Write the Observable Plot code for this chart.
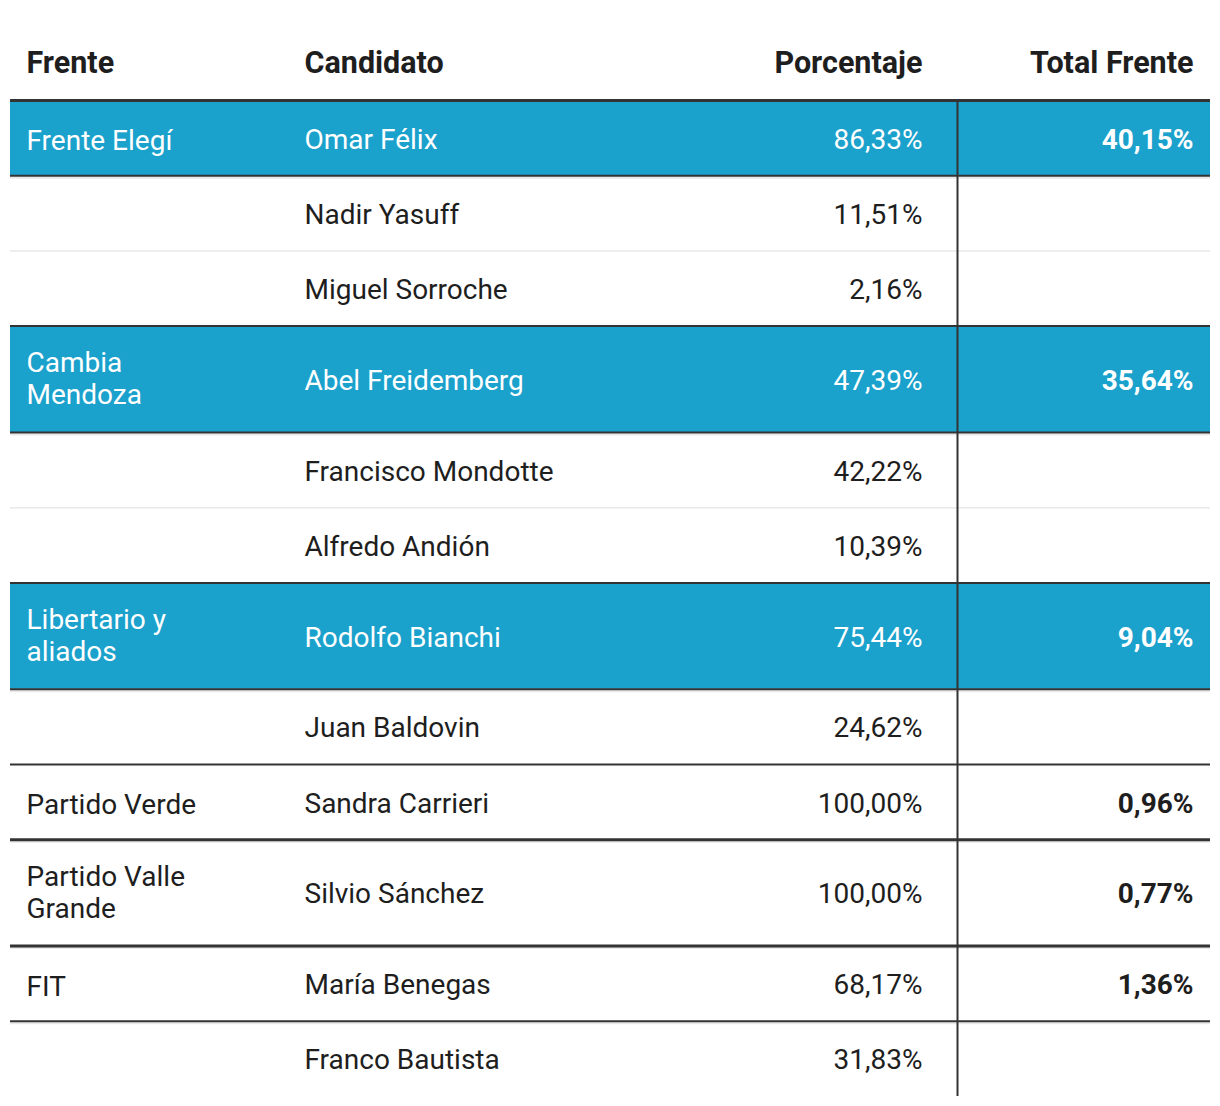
<!DOCTYPE html>
<html>
<head>
<meta charset="utf-8">
<script src="https://cdn.jsdelivr.net/npm/d3@7"></script>
<script src="https://cdn.jsdelivr.net/npm/@observablehq/plot@0.6"></script>
<style>
  html, body { margin: 0; padding: 0; background: #fff; }
  #chart svg { display: block; }
</style>
</head>
<body>
<div id="chart"></div>
<script>
// ---- data ----
const encabezados = ["Frente", "Candidato", "Porcentaje", "Total Frente"];
const frentes = ["Frente Elegí", "Cambia Mendoza", "Libertario y aliados", "Partido Verde", "Partido Valle Grande", "FIT"];
const totalesFrente = [40.15, 35.64, 9.04, 0.96, 0.77, 1.36];
const destacados = [true, true, true, false, false, false];
const candidatos = ["Omar Félix", "Nadir Yasuff", "Miguel Sorroche", "Abel Freidemberg", "Francisco Mondotte", "Alfredo Andión", "Rodolfo Bianchi", "Juan Baldovin", "Sandra Carrieri", "Silvio Sánchez", "María Benegas", "Franco Bautista"];
const porcentajes = [86.33, 11.51, 2.16, 47.39, 42.22, 10.39, 75.44, 24.62, 100.00, 100.00, 68.17, 31.83];
const frenteDeCandidato = [0, 0, 0, 1, 1, 1, 2, 2, 3, 4, 5, 5];

// ---- layout ----
const W = 1220, H = 1106;
const tableLeft = 10, tableRight = 1210;
const colFrente = 26, colCand = 304, colPct = 922, colDiv = 957, colTotal = 1193;
const headerY = 63, headerLine = 100;
const rowH1 = 75.2, rowH2 = 106.4;
const fontSize = 28, headerSize = 30.5;
const blue = "#1aa1cc", dark = "#333333", light = "#e9e9e9", textCol = "#1e1e1e";
const lineWidthEm = 7;

const es = d3.formatLocale({decimal: ",", thousands: ".", grouping: [3], currency: ["$", ""]});
const fmt = v => es.format(".2f")(v) + "%";

// estimate whether frente label wraps (same metric Plot uses)
function wraps(s) {
  const w = {" ":278,a:556,b:556,c:500,d:556,e:556,f:278,g:556,h:556,i:222,"í":222,j:222,k:500,l:222,m:833,n:556,o:556,p:556,q:556,r:333,s:500,t:278,u:556,v:500,w:722,x:500,y:500,z:500};
  let t = 0;
  for (const ch of s) t += w[ch] ?? 667;
  return t / 1000 > lineWidthEm;
}

const rows = [];
let y = headerLine;
candidatos.forEach((c, i) => {
  const f = frenteDeCandidato[i];
  const first = i === 0 || frenteDeCandidato[i - 1] !== f;
  const last = i === candidatos.length - 1 || frenteDeCandidato[i + 1] !== f;
  const lines = first && wraps(frentes[f]) ? 2 : 1;
  const h = lines === 2 ? rowH2 : rowH1;
  rows.push({
    i, candidato: c, pct: porcentajes[i], frente: first ? frentes[f] : "",
    total: first ? totalesFrente[f] : null, hl: first && destacados[f],
    first, last, lines, tableEnd: i === candidatos.length - 1,
    y0: y, y1: y + h, ym: y + h / 2
  });
  y += h;
});
const tableBottom = y;

const lightRules = rows.filter(r => !r.first && !r.last);
const darkRules = rows.filter(r => !r.tableEnd && (r.first || r.last) && !(r.first && r.last));
const thickRules = rows.filter(r => !r.tableEnd && r.first && r.last);
const headerX = [colFrente, colCand, colPct, colTotal];
const headersStart = encabezados.slice(0, 2).map((t, k) => ({t, x: headerX[k]}));
const headersEnd = encabezados.slice(2).map((t, k) => ({t, x: headerX[k + 2]}));
const frenteY = d => d.ym + (d.lines === 2 ? -1.5 : 1.5);
const cellY = d => d.ym + 1.5;

const chart = Plot.plot({
  width: W, height: H,
  margin: 0,
  x: {type: "linear", domain: [0, W], range: [0, W], axis: null},
  y: {type: "linear", domain: [0, H], range: [0, H], axis: null},
  style: {fontFamily: "Roboto, sans-serif", background: "#fff"},
  marks: [
    Plot.rect(rows.filter(r => r.hl), {x1: () => tableLeft, x2: () => tableRight, y1: "y0", y2: "y1", fill: blue}),
    Plot.ruleY(lightRules, {y: "y1", x1: tableLeft, x2: tableRight, stroke: light, strokeWidth: 1.5}),
    Plot.ruleY(rows.filter(r => r.first && !r.tableEnd), {y: d => d.y1 + 2, x1: tableLeft, x2: tableRight, stroke: light, strokeWidth: 2}),
    Plot.ruleY(darkRules, {y: "y1", x1: tableLeft, x2: tableRight, stroke: dark, strokeWidth: 2}),
    Plot.ruleY(thickRules, {y: "y1", x1: tableLeft, x2: tableRight, stroke: dark, strokeWidth: 3}),
    Plot.ruleY([headerLine], {x1: tableLeft, x2: tableRight, stroke: dark, strokeWidth: 3}),
    Plot.ruleX([colDiv], {y1: headerLine, y2: tableBottom, stroke: dark, strokeWidth: 2}),
    Plot.text(headersStart, {x: "x", y: () => headerY, text: "t", textAnchor: "start", fontWeight: "bold", fontSize: headerSize, fill: textCol}),
    Plot.text(headersEnd, {x: "x", y: () => headerY, text: "t", textAnchor: "end", fontWeight: "bold", fontSize: headerSize, fill: textCol}),
    Plot.text(rows.filter(r => r.hl), {x: () => colFrente, y: frenteY, text: "frente", textAnchor: "start", fontSize, lineWidth: lineWidthEm, lineHeight: 1.15, fill: "#fff"}),
    Plot.text(rows.filter(r => r.first && !r.hl), {x: () => colFrente, y: frenteY, text: "frente", textAnchor: "start", fontSize, lineWidth: lineWidthEm, lineHeight: 1.15, fill: textCol}),
    Plot.text(rows, {x: () => colCand, y: cellY, text: "candidato", textAnchor: "start", fontSize, fill: d => d.hl ? "#fff" : textCol}),
    Plot.text(rows, {x: () => colPct, y: cellY, text: d => fmt(d.pct), textAnchor: "end", fontSize, fill: d => d.hl ? "#fff" : textCol}),
    Plot.text(rows.filter(r => r.first), {x: () => colTotal, y: cellY, text: d => fmt(d.total), textAnchor: "end", fontSize, fontWeight: "bold", fill: d => d.hl ? "#fff" : textCol})
  ]
});
document.getElementById("chart").appendChild(chart);
</script>
</body>
</html>
